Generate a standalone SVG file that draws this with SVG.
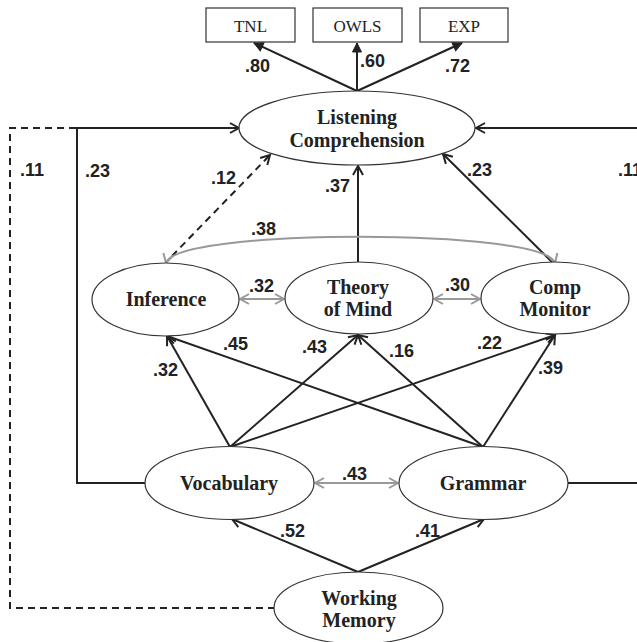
<svg xmlns="http://www.w3.org/2000/svg" width="637" height="642" viewBox="0 0 637 642">
<style>
.node ellipse{fill:#fff;stroke:#333;stroke-width:1.2}
.box rect{fill:#fff;stroke:#333;stroke-width:1.2}
.nt{font-family:"Liberation Serif",serif;font-weight:bold;font-size:20px;fill:#222;text-anchor:middle}
.bt{font-family:"Liberation Serif",serif;font-size:17px;fill:#222;text-anchor:middle}
.lb{font-family:"Liberation Sans",Arial,sans-serif;font-weight:bold;font-size:18px;fill:#222}
.k{fill:none;stroke:#222;stroke-width:2}
.g{fill:none;stroke:#999;stroke-width:2}
.d{fill:none;stroke:#222;stroke-width:2;stroke-dasharray:7 5}
</style>
<defs>
<marker id="ak" viewBox="-11 -7 13 14" refX="0" refY="0" markerWidth="13" markerHeight="14" orient="auto-start-reverse" markerUnits="userSpaceOnUse"><path d="M-9,-5 L0,0 L-9,5" fill="none" stroke="#222" stroke-width="2"/></marker>
<marker id="ag" viewBox="-11 -7 13 14" refX="0" refY="0" markerWidth="13" markerHeight="14" orient="auto-start-reverse" markerUnits="userSpaceOnUse"><path d="M-9,-5 L0,0 L-9,5" fill="none" stroke="#999" stroke-width="2"/></marker>
<marker id="af" viewBox="-11 -7 13 14" refX="0" refY="0" markerWidth="13" markerHeight="14" orient="auto" markerUnits="userSpaceOnUse"><path d="M-9,-4.5 L0,0 L-9,4.5 Z" fill="#222" stroke="#222" stroke-width="1"/></marker>
</defs>
<g id="connectors">
<path class="k" d="M357,91 L254,43" marker-end="url(#af)"/>
<path class="k" d="M357,91 L357,43" marker-end="url(#af)"/>
<path class="k" d="M357,91 L462,43" marker-end="url(#af)"/>
<path class="d" d="M275,608 L10,608 L10,128 L77,128"/>
<path class="k" d="M145,483 L77,483 L77,128 L239,128" marker-end="url(#ak)"/>
<path class="k" d="M568,483 L650,483 L650,128 L476,128" marker-end="url(#ak)"/>
<path class="d" d="M172,256 L270,155" marker-end="url(#ak)"/>
<path class="k" d="M358,262 L358,166" marker-end="url(#ak)"/>
<path class="k" d="M552,262 L443,154" marker-end="url(#ak)"/>
<path class="g" d="M166,263 C175,228 545,228 555,263" marker-start="url(#ag)" marker-end="url(#ag)"/>
<path class="g" d="M240,299 L284,299" marker-start="url(#ag)" marker-end="url(#ag)"/>
<path class="g" d="M434,299 L480,299" marker-start="url(#ag)" marker-end="url(#ag)"/>
<path class="k" d="M230,447 L167,336" marker-end="url(#ak)"/>
<path class="k" d="M230,447 L358,335" marker-end="url(#ak)"/>
<path class="k" d="M230,447 L555,335" marker-end="url(#ak)"/>
<path class="k" d="M483,447 L167,336" marker-end="url(#ak)"/>
<path class="k" d="M483,447 L358,335" marker-end="url(#ak)"/>
<path class="k" d="M483,447 L555,335" marker-end="url(#ak)"/>
<path class="g" d="M315,483 L398,483" marker-start="url(#ag)" marker-end="url(#ag)"/>
<path class="k" d="M358,572 L232,519" marker-end="url(#ak)"/>
<path class="k" d="M358,572 L484,519" marker-end="url(#ak)"/>
</g>
<g id="labels">
<text class="lb" x="245" y="72">.80</text>
<text class="lb" x="360" y="67">.60</text>
<text class="lb" x="445" y="72">.72</text>
<text class="lb" x="20" y="176">.11</text>
<text class="lb" x="85" y="177">.23</text>
<text class="lb" x="211" y="184">.12</text>
<text class="lb" x="325" y="192">.37</text>
<text class="lb" x="467" y="176">.23</text>
<text class="lb" x="618" y="176">.11</text>
<text class="lb" x="251" y="235">.38</text>
<text class="lb" x="249" y="292">.32</text>
<text class="lb" x="445" y="291">.30</text>
<text class="lb" x="223" y="350">.45</text>
<text class="lb" x="302" y="353">.43</text>
<text class="lb" x="389" y="357">.16</text>
<text class="lb" x="477" y="349">.22</text>
<text class="lb" x="153" y="376">.32</text>
<text class="lb" x="538" y="374">.39</text>
<text class="lb" x="342" y="480">.43</text>
<text class="lb" x="280" y="537">.52</text>
<text class="lb" x="415" y="537">.41</text>
</g>
<g id="TNL" class="box"><rect x="206" y="8" width="89" height="34"/><text class="bt" x="250.5" y="32">TNL</text></g>
<g id="OWLS" class="box"><rect x="313" y="8" width="89" height="34"/><text class="bt" x="357.5" y="32">OWLS</text></g>
<g id="EXP" class="box"><rect x="420" y="8" width="88" height="34"/><text class="bt" x="464" y="32">EXP</text></g>
<g id="ListeningComprehension" class="node"><ellipse cx="357" cy="128" rx="118" ry="37"/><text class="nt" x="357" y="124">Listening</text><text class="nt" x="357" y="147">Comprehension</text></g>
<g id="Inference" class="node"><ellipse cx="165.5" cy="299.5" rx="73.5" ry="36.5"/><text class="nt" x="166" y="306">Inference</text></g>
<g id="TheoryOfMind" class="node"><ellipse cx="359" cy="298" rx="74" ry="36"/><text class="nt" x="358" y="294">Theory</text><text class="nt" x="358" y="316">of Mind</text></g>
<g id="CompMonitor" class="node"><ellipse cx="555" cy="298" rx="74" ry="36"/><text class="nt" x="555" y="294">Comp</text><text class="nt" x="555" y="316">Monitor</text></g>
<g id="Vocabulary" class="node"><ellipse cx="229.5" cy="483" rx="84.5" ry="36.5"/><text class="nt" x="229" y="490">Vocabulary</text></g>
<g id="Grammar" class="node"><ellipse cx="483.5" cy="483" rx="84.5" ry="36.5"/><text class="nt" x="483" y="490">Grammar</text></g>
<g id="WorkingMemory" class="node"><ellipse cx="358.5" cy="608" rx="84.5" ry="36"/><text class="nt" x="359" y="605">Working</text><text class="nt" x="359" y="627">Memory</text></g>
</svg>
